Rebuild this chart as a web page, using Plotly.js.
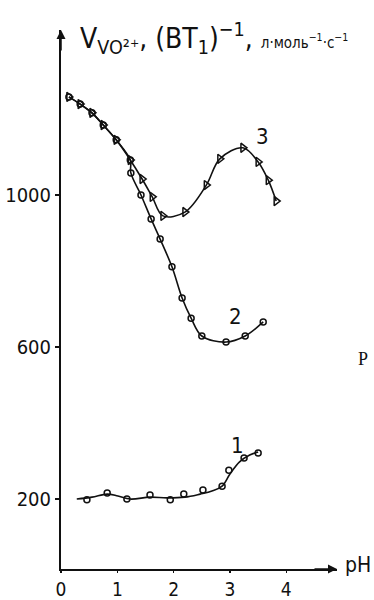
<!DOCTYPE html>
<html><head><meta charset="utf-8">
<script src="https://cdn.plot.ly/plotly-3.0.1.min.js"></script>
<style>html,body{margin:0;padding:0;background:#fff;}#chart{width:374px;height:600px;}</style>
</head><body><div id="chart"></div>
<script>
// Curve 2 (circles)
const ph2 = [0.14, 0.34, 0.55, 0.75, 0.98, 1.23, 1.24, 1.42, 1.60, 1.76, 1.97, 2.15, 2.31, 2.50, 2.93, 3.27, 3.59];
const v2  = [1258, 1239, 1216, 1184, 1145, 1092, 1058, 1000, 937, 884, 811, 729, 676, 629, 613, 629, 666];
// Curve 3 (triangles)
const ph3 = [0.14, 0.34, 0.55, 0.75, 0.98, 1.23, 1.44, 1.62, 1.81, 2.20, 2.58, 2.82, 3.23, 3.50, 3.68, 3.82];
const v3  = [1258, 1239, 1216, 1184, 1145, 1092, 1042, 995, 945, 955, 1026, 1095, 1124, 1087, 1039, 984];
// Curve 1 measured points
const ph1 = [0.46, 0.82, 1.17, 1.58, 1.94, 2.18, 2.52, 2.86, 2.98, 3.25, 3.50];
const v1  = [198, 216, 200, 211, 198, 213, 224, 234, 276, 308, 321];
// Curve 1 drawn smooth line
const ph1Line = [0.28, 0.55, 0.82, 1.01, 1.23, 1.58, 1.88, 2.20, 2.47, 2.68, 2.86, 3.00, 3.17, 3.35, 3.50];
const v1Line  = [200, 205, 213, 208, 200, 205, 203, 205, 213, 221, 234, 266, 298, 316, 324];

const xTicks = [0, 1, 2, 3, 4];
const yTicks = [200, 600, 1000];

const F = 'DejaVu Sans Condensed, DejaVu Sans, sans-serif';
const lineStyle = {color: '#111', width: 1.6, shape: 'spline', smoothing: 1};

const traces = [
  {x: ph1Line, y: v1Line, mode: 'lines', line: lineStyle, hoverinfo: 'skip'},
  {x: ph1, y: v1, mode: 'markers', marker: {symbol: 'circle-open', size: 6, color: '#111', line: {width: 1.5}}},
  {x: ph2, y: v2, mode: 'lines+markers', line: lineStyle, marker: {symbol: 'circle-open', size: 6, color: '#111', line: {width: 1.5}}},
  {x: ph3, y: v3, mode: 'lines+markers', line: lineStyle, marker: {symbol: 'triangle-right-open', size: 8, color: '#111', line: {width: 1.5}}}
];

const layout = {
  width: 374, height: 600,
  margin: {l: 61, r: 37, t: 30, b: 31},
  paper_bgcolor: '#fff', plot_bgcolor: '#fff',
  showlegend: false,
  font: {family: F, color: '#111'},
  xaxis: {
    range: [0, 4.9], showgrid: false, zeroline: false,
    showline: true, linecolor: '#111', linewidth: 2,
    tickmode: 'array', tickvals: xTicks, ticktext: xTicks.map(String),
    ticks: 'outside', ticklen: 2, tickwidth: 1.5, tickcolor: '#111',
    tickfont: {family: F, size: 19, color: '#111'}
  },
  yaxis: {
    range: [16, 1434], showgrid: false, zeroline: false,
    showline: true, linecolor: '#111', linewidth: 2,
    tickmode: 'array', tickvals: yTicks, ticktext: yTicks.map(String),
    ticks: 'outside', ticklen: 4, tickwidth: 1.5, tickcolor: '#111',
    tickfont: {family: F, size: 20, color: '#111'}
  },
  annotations: [
    {xref: 'x', yref: 'y', x: 0, y: 1434, ax: 0, ay: 22, showarrow: true, arrowhead: 2, arrowsize: 1.2, arrowwidth: 1.5, arrowcolor: '#111', text: ''},
    {xref: 'x', yref: 'y', x: 4.9, y: 16, ax: -24, ay: 0, showarrow: true, arrowhead: 2, arrowsize: 1.2, arrowwidth: 1.5, arrowcolor: '#111', text: ''},
    {xref: 'paper', yref: 'paper', x: 1.02, y: 0.008, xanchor: 'left', yanchor: 'middle', showarrow: false,
     text: 'pH', font: {family: F, size: 21, color: '#111'}},
    {xref: 'paper', yref: 'paper', x: 0.06, y: 0.985, xanchor: 'left', yanchor: 'middle', showarrow: false,
     text: 'V<sub>VO²⁺</sub>, (BT<sub>1</sub>)<sup>−1</sup>, <span style="font-size:15px">л·моль<sup>−1</sup>·с<sup>−1</sup></span>',
     font: {family: F, size: 28, color: '#111'}},
    {xref: 'x', yref: 'y', x: 3.58, y: 1155, showarrow: false, text: '3', font: {family: F, size: 22, color: '#111'}},
    {xref: 'x', yref: 'y', x: 3.09, y: 680, showarrow: false, text: '2', font: {family: F, size: 22, color: '#111'}},
    {xref: 'x', yref: 'y', x: 3.13, y: 340, showarrow: false, text: '1', font: {family: F, size: 22, color: '#111'}},
    {xref: 'paper', yref: 'paper', x: 1.095, y: 0.39, xanchor: 'center', showarrow: false, text: 'P', font: {family: 'Liberation Serif, serif', size: 18, color: '#111'}}
  ]
};

Plotly.newPlot('chart', traces, layout, {staticPlot: true, displayModeBar: false});
</script>
</body></html>
